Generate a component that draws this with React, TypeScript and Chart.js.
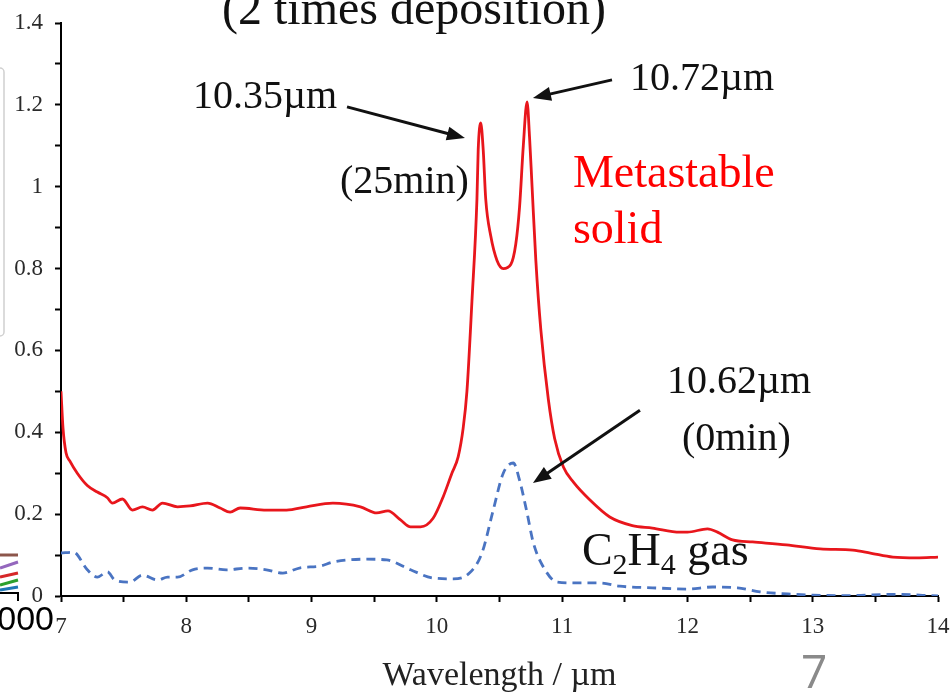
import React, { useEffect, useRef } from 'react';
import { Chart, registerables } from 'chart.js';

Chart.register(...registerables);

const SERIF = "'Liberation Serif', 'Times New Roman', Times, serif";
const SANS = "'Liberation Sans', Arial, sans-serif";

// Metastable solid (25 min) – red solid curve
const solidX = [7.0, 7.016, 7.04, 7.07, 7.13, 7.21, 7.29, 7.37, 7.41, 7.49, 7.57, 7.65, 7.73, 7.81, 7.93, 8.03, 8.17, 8.27, 8.35, 8.43, 8.64, 8.8, 8.96, 9.17, 9.39, 9.52, 9.61, 9.71, 9.79, 9.87, 9.97, 10.05, 10.12, 10.17, 10.21, 10.24, 10.28, 10.32, 10.33, 10.35, 10.37, 10.39, 10.43, 10.48, 10.53, 10.59, 10.63, 10.66, 10.69, 10.72, 10.74, 10.76, 10.79, 10.83, 10.89, 10.94, 11.01, 11.09, 11.22, 11.38, 11.56, 11.72, 11.94, 12.0, 12.16, 12.24, 12.36, 12.52, 12.79, 13.06, 13.32, 13.46, 13.64, 13.83, 14.0];
const solidY = [0.5, 0.41, 0.35, 0.33, 0.3, 0.27, 0.254, 0.24, 0.227, 0.237, 0.21, 0.218, 0.21, 0.227, 0.218, 0.22, 0.227, 0.215, 0.205, 0.215, 0.21, 0.21, 0.218, 0.227, 0.218, 0.203, 0.208, 0.186, 0.169, 0.169, 0.19, 0.242, 0.3, 0.34, 0.41, 0.5, 0.72, 0.97, 1.09, 1.156, 1.09, 0.97, 0.88, 0.82, 0.8, 0.81, 0.86, 0.95, 1.1, 1.207, 1.12, 1.0, 0.82, 0.65, 0.48, 0.385, 0.315, 0.278, 0.235, 0.193, 0.172, 0.166, 0.156, 0.156, 0.164, 0.156, 0.137, 0.132, 0.125, 0.115, 0.112, 0.105, 0.095, 0.093, 0.095];

// C2H4 gas (0 min) – blue dashed curve
const gasX = [7.0, 7.1, 7.21, 7.29, 7.37, 7.43, 7.55, 7.65, 7.77, 7.85, 7.93, 8.05, 8.17, 8.32, 8.48, 8.64, 8.77, 8.91, 9.07, 9.17, 9.44, 9.6, 9.79, 9.97, 10.13, 10.26, 10.36, 10.45, 10.53, 10.61, 10.66, 10.72, 10.77, 10.85, 10.96, 11.12, 11.3, 11.46, 11.72, 12.0, 12.2, 12.4, 12.58, 12.8, 13.0, 13.3, 13.65, 14.0];
const gasY = [0.105, 0.107, 0.064, 0.046, 0.059, 0.039, 0.034, 0.051, 0.039, 0.046, 0.046, 0.064, 0.068, 0.064, 0.068, 0.064, 0.056, 0.069, 0.073, 0.083, 0.09, 0.088, 0.064, 0.044, 0.042, 0.056, 0.105, 0.21, 0.3, 0.325, 0.283, 0.203, 0.13, 0.071, 0.034, 0.032, 0.032, 0.024, 0.02, 0.017, 0.022, 0.02, 0.01, 0.005, 0.002, 0.001, 0.004, 0.0];

// tick labels
const xTickLabels = [7, 8, 9, 10, 11, 12, 13, 14];
const yTickLabels = [0, 0.2, 0.4, 0.6, 0.8, 1, 1.2, 1.4];

// annotations (data coordinates)
const notes = [
  { text: '10.35µm', x: 8.054, y: 1.192, color: '#111', size: 40 },
  { text: '(25min)', x: 9.227, y: 0.985, color: '#111', size: 40 },
  { text: '10.72µm', x: 11.541, y: 1.236, color: '#111', size: 40 },
  { text: 'Metastable', x: 11.086, y: 0.999, color: '#ff0000', size: 46 },
  { text: 'solid', x: 11.086, y: 0.862, color: '#ff0000', size: 46 },
  { text: '10.62µm', x: 11.837, y: 0.496, color: '#111', size: 40 },
  { text: '(0min)', x: 11.956, y: 0.357, color: '#111', size: 40 },
];
const arrows = [
  { from: [9.283, 1.195], to: [10.224, 1.119] },
  { from: [11.398, 1.261], to: [10.767, 1.217] },
  { from: [11.621, 0.454], to: [10.767, 0.276] },
];
const gasLabelPos = { x: 11.158, y: 0.076 };

function drawArrow(ctx: CanvasRenderingContext2D, x1: number, y1: number, x2: number, y2: number) {
  const a = Math.atan2(y2 - y1, x2 - x1);
  const L = 18, W = 7;
  const c = Math.cos(a), s = Math.sin(a);
  ctx.beginPath();
  ctx.moveTo(x1, y1);
  ctx.lineTo(x2 - c * (L - 2), y2 - s * (L - 2));
  ctx.stroke();
  ctx.beginPath();
  ctx.moveTo(x2, y2);
  ctx.lineTo(x2 - c * L + s * W, y2 - s * L - c * W);
  ctx.lineTo(x2 - c * L - s * W, y2 - s * L + c * W);
  ctx.closePath();
  ctx.fill();
}

const annotationPlugin = {
  id: 'annotations',
  afterDraw(chart: any) {
    const ctx: CanvasRenderingContext2D = chart.ctx;
    const xs = chart.scales.x;
    const ys = chart.scales.y;
    const px = (v: number) => xs.getPixelForValue(v);
    const py = (v: number) => ys.getPixelForValue(v);
    ctx.save();
    ctx.textAlign = 'left';
    ctx.textBaseline = 'alphabetic';
    for (const n of notes) {
      ctx.fillStyle = n.color;
      ctx.font = `${n.size}px ${SERIF}`;
      ctx.fillText(n.text, px(n.x), py(n.y));
    }
    // C2H4 gas with subscripts
    {
      let x = px(gasLabelPos.x);
      const y = py(gasLabelPos.y);
      ctx.fillStyle = '#111';
      const big = `46px ${SERIF}`;
      const small = `30px ${SERIF}`;
      const parts: [string, string, number][] = [
        ['C', big, 0], ['2', small, 9], ['H', big, 0], ['4', small, 9], [' gas', big, 0],
      ];
      for (const [t, f, dy] of parts) {
        ctx.font = f;
        ctx.fillText(t, x, y + dy);
        x += ctx.measureText(t).width;
      }
    }
    ctx.strokeStyle = '#111';
    ctx.fillStyle = '#111';
    ctx.lineWidth = 3;
    for (const a of arrows) {
      drawArrow(ctx, px(a.from[0]), py(a.from[1]), px(a.to[0]), py(a.to[1]));
    }
    // top heading (cut off at the top of the slide)
    ctx.fillStyle = '#111';
    ctx.font = `48px ${SERIF}`;
    ctx.fillText('(2 times deposition)', 222, 24);
    // slide page number
    ctx.fillStyle = '#8a8a8a';
    ctx.font = `46px 'Open Sans', ${SANS}`;
    ctx.fillText('7', 801, 688);
    // leftover fragments of a neighbouring chart on the slide
    ctx.strokeStyle = '#d0d0d0';
    ctx.lineWidth = 1.5;
    ctx.beginPath();
    ctx.moveTo(-10, 68);
    ctx.lineTo(0, 68);
    ctx.arcTo(4, 68, 4, 72, 4);
    ctx.lineTo(4, 332);
    ctx.arcTo(4, 336, 0, 336, 4);
    ctx.lineTo(-10, 336);
    ctx.stroke();
    const frag: [string, number, number][] = [
      ['#8c564b', 555, 555], ['#9467bd', 568, 562], ['#d62728', 577, 573], ['#2ca02c', 585, 580], ['#1f77b4', 590, 587],
    ];
    ctx.lineWidth = 3;
    for (const [c, y0, y1] of frag) {
      ctx.strokeStyle = c;
      ctx.beginPath();
      ctx.moveTo(0, y0);
      ctx.lineTo(18, y1);
      ctx.stroke();
    }
    ctx.strokeStyle = '#000';
    ctx.lineWidth = 2;
    ctx.beginPath();
    ctx.moveTo(0, 593);
    ctx.lineTo(18, 593);
    ctx.lineTo(18, 601);
    ctx.stroke();
    ctx.fillStyle = '#000';
    ctx.font = `34px ${SANS}`;
    ctx.textAlign = 'right';
    ctx.fillText('000', 54, 630);
    ctx.restore();
  },
};

export default function App() {
  const ref = useRef<HTMLCanvasElement | null>(null);
  useEffect(() => {
    document.body.style.margin = '0';
    const canvas = ref.current;
    if (!canvas) return;
    const chart = new Chart(canvas, {
      type: 'line',
      data: {
        datasets: [
          {
            label: 'Metastable solid',
            data: solidX.map((x, i) => ({ x, y: solidY[i] })),
            borderColor: '#e8161c',
            borderWidth: 2.8,
            pointRadius: 0,
            cubicInterpolationMode: 'monotone',
            fill: false,
          },
          {
            label: 'C2H4 gas',
            data: gasX.map((x, i) => ({ x, y: gasY[i] })),
            borderColor: '#4a74c2',
            borderWidth: 2.8,
            borderDash: [9, 6],
            pointRadius: 0,
            cubicInterpolationMode: 'monotone',
            fill: false,
          },
        ],
      },
      options: {
        animation: false,
        responsive: false,
        devicePixelRatio: 1,
        layout: { padding: { top: 23, right: 13, left: 0, bottom: 0 } },
        plugins: { legend: { display: false }, tooltip: { enabled: false }, title: { display: false } },
        scales: {
          x: {
            type: 'linear',
            min: 7,
            max: 14,
            afterFit: (s: any) => { s.height = 100; s.paddingLeft = 0; s.paddingRight = 0; },
            border: { display: true, color: '#000', width: 2 },
            grid: { drawOnChartArea: false, drawTicks: true, tickLength: 6, tickColor: '#000', tickWidth: 2 },
            ticks: {
              stepSize: 0.5,
              autoSkip: false,
              maxRotation: 0,
              padding: 11,
              color: '#2a2a2a',
              font: { family: SERIF, size: 23 },
              callback: (v: any) => (xTickLabels.includes(Number(v)) ? String(v) : ''),
            },
            title: {
              display: true,
              text: 'Wavelength / µm',
              color: '#222',
              font: { family: SERIF, size: 34 },
              padding: { top: 0, bottom: 0 },
            },
          },
          y: {
            type: 'linear',
            min: 0,
            max: 1.4,
            afterFit: (s: any) => { s.width = 61; s.paddingTop = 0; s.paddingBottom = 0; },
            border: { display: true, color: '#000', width: 2 },
            grid: { drawOnChartArea: false, drawTicks: true, tickLength: 6, tickColor: '#000', tickWidth: 2 },
            ticks: {
              stepSize: 0.1,
              autoSkip: false,
              padding: 12,
              color: '#2a2a2a',
              font: { family: SERIF, size: 23 },
              callback: (v: any) => {
                const r = Math.round(Number(v) * 10) / 10;
                return yTickLabels.some((t) => Math.abs(t - r) < 1e-6) ? String(r) : '';
              },
            },
          },
        },
      },
      plugins: [annotationPlugin],
    } as any);
    return () => chart.destroy();
  }, []);
  return (
    <div style={{ position: 'fixed', left: 0, top: 0, width: 951, height: 696, background: '#fff' }}>
      <canvas ref={ref} width={951} height={696} style={{ display: 'block' }} />
    </div>
  );
}
